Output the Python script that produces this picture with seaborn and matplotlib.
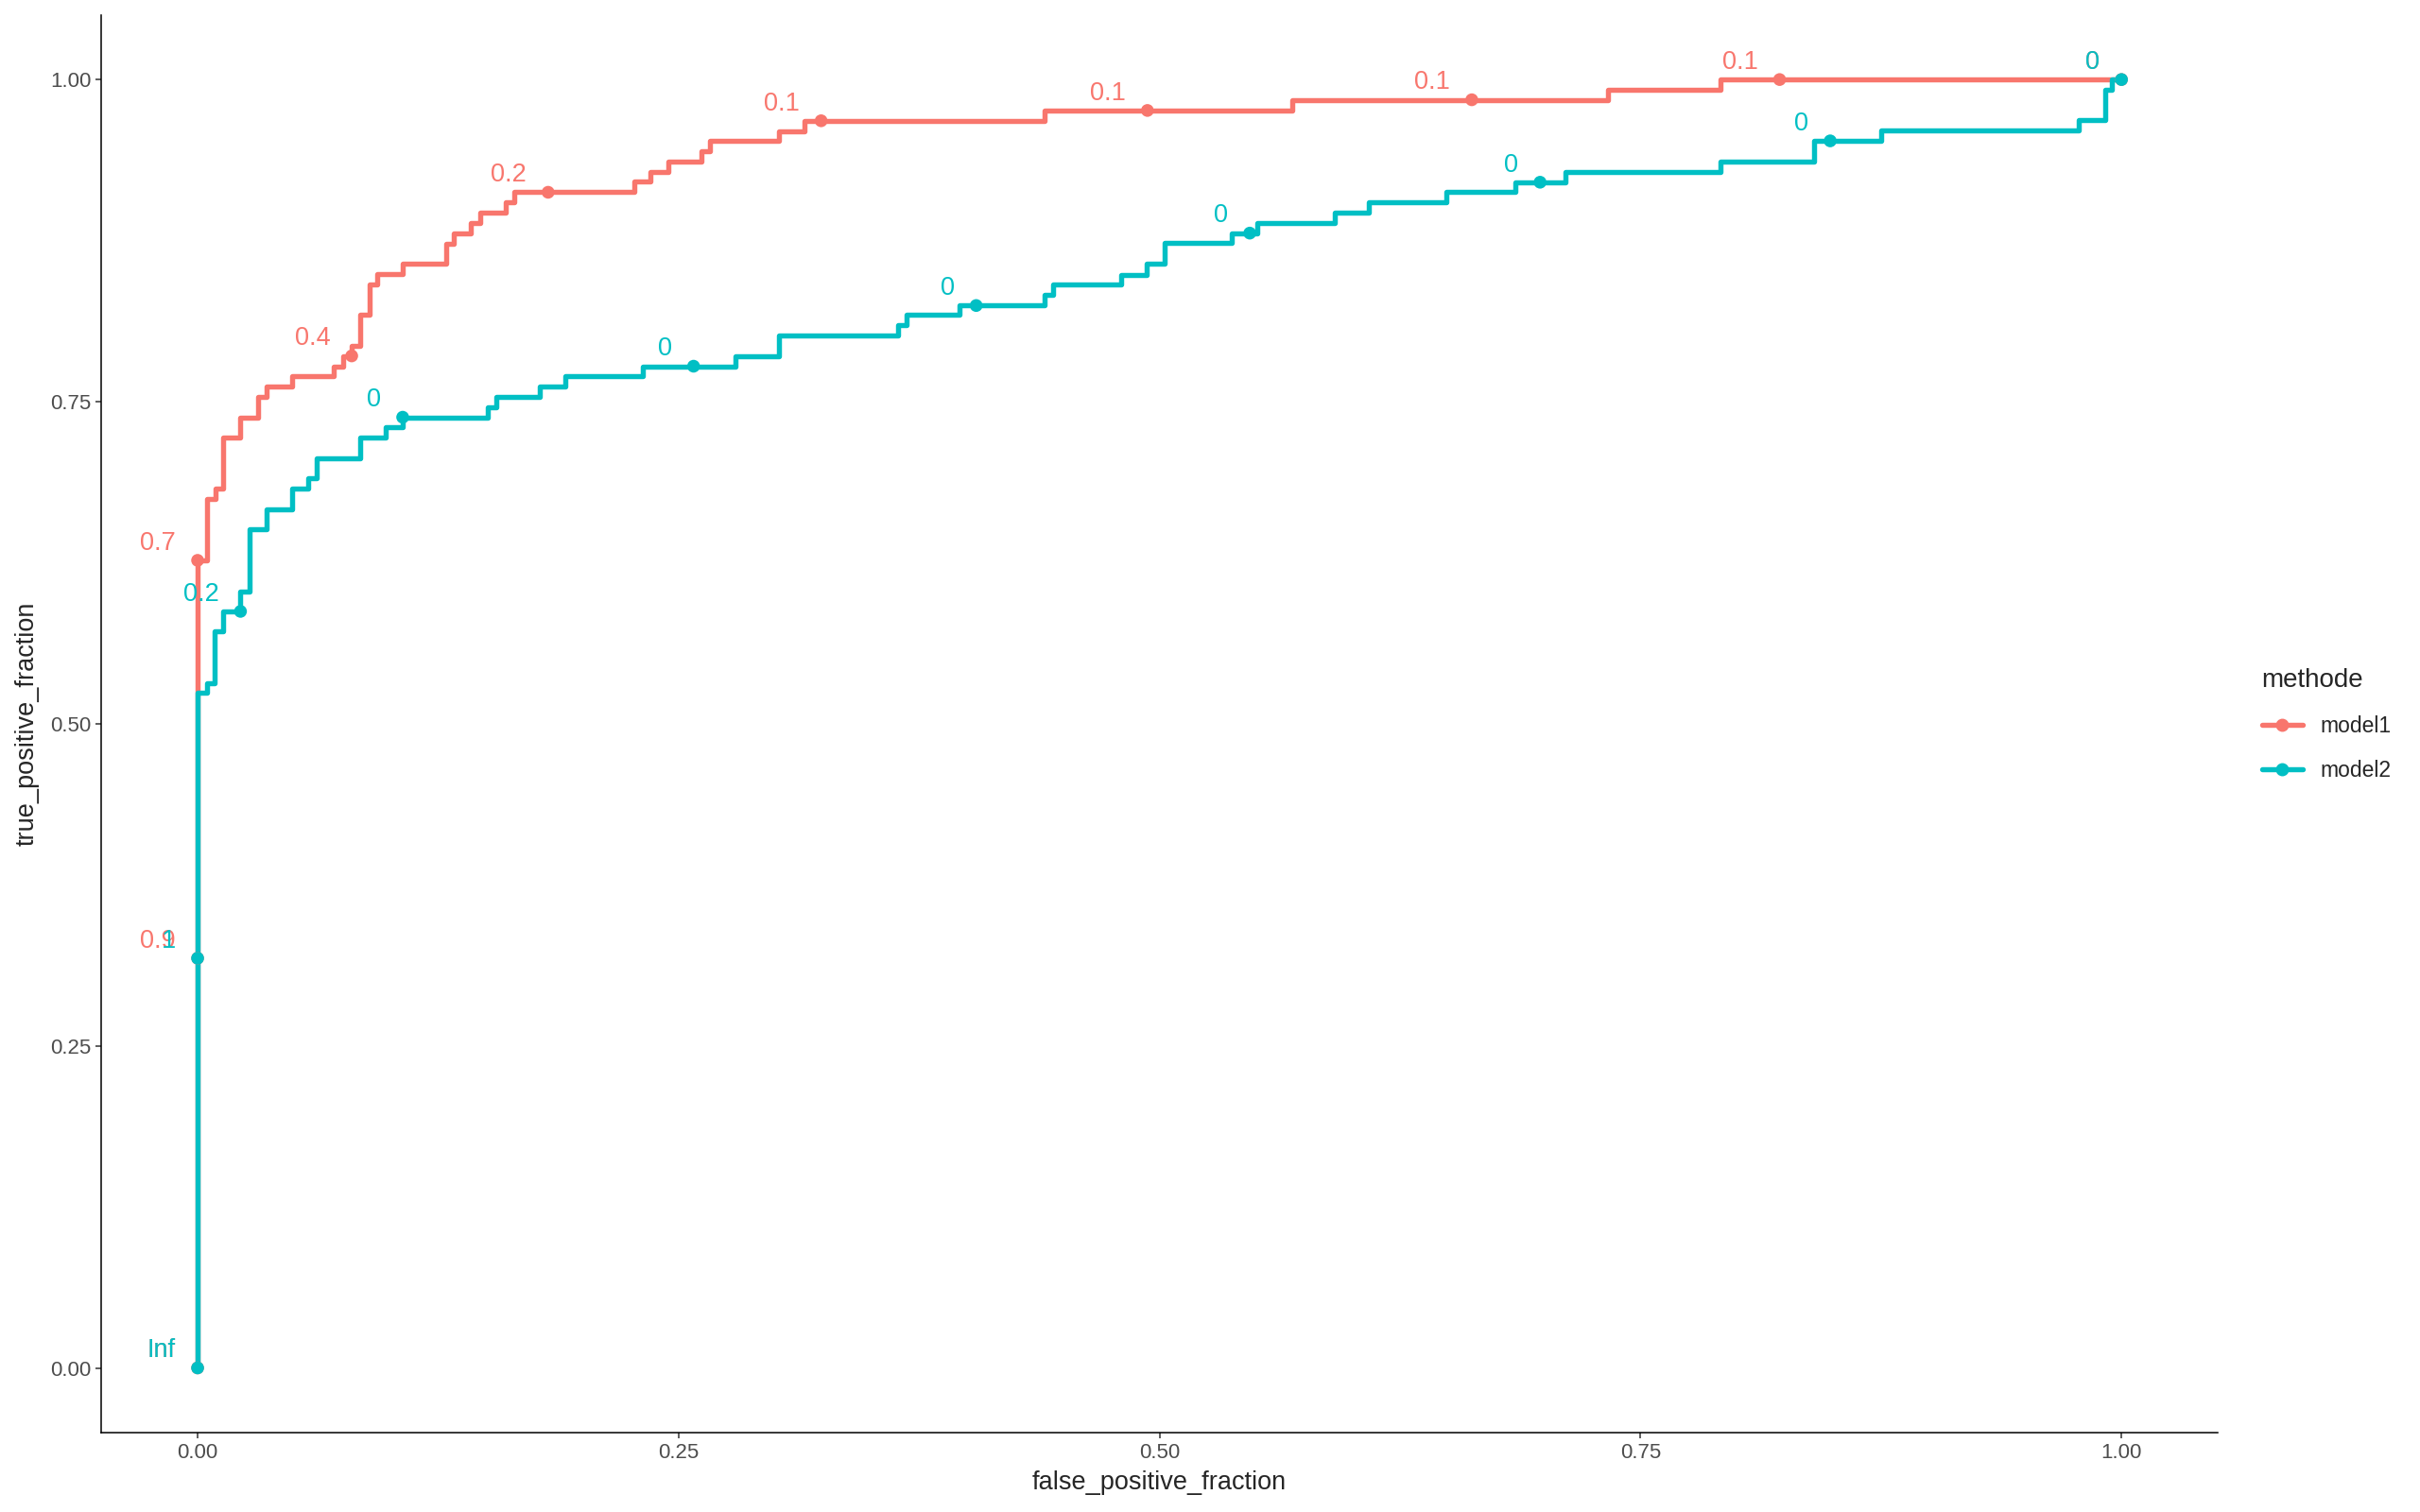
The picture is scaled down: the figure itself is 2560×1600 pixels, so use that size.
"""ROC curves of two models with labelled cutoffs."""

import matplotlib

matplotlib.use("Agg")
import matplotlib.pyplot as plt
import pandas as pd
import seaborn as sns
from matplotlib.lines import Line2D

# ROC points (false positive fraction, true positive fraction)
model1_fpf = [0, 0, 0.0047, 0.0092, 0.0133, 0.0223, 0.0313, 0.0357, 0.0490, 0.0709,
              0.0755, 0.0801, 0.0845, 0.0894, 0.0935, 0.1066, 0.1290, 0.1333, 0.1422,
              0.1467, 0.1602, 0.1647, 0.2269, 0.2353, 0.2446, 0.2621, 0.2663, 0.3021,
              0.3156, 0.4401, 0.5692, 0.7331, 0.7914, 1.0]
model1_tpf = [0, 0.6268, 0.6744, 0.6822, 0.7220, 0.7379, 0.7538, 0.7619, 0.7697, 0.7775,
              0.7855, 0.7936, 0.8173, 0.8412, 0.8491, 0.8568, 0.8727, 0.8803, 0.8886,
              0.8967, 0.9045, 0.9125, 0.9211, 0.9284, 0.9363, 0.9443, 0.9524, 0.9597,
              0.9680, 0.9760, 0.9843, 0.9919, 1.0, 1.0]

model2_fpf = [0, 0, 0.0047, 0.0089, 0.0133, 0.0223, 0.0272, 0.0359, 0.0490, 0.0575,
              0.0621, 0.0845, 0.0976, 0.1066, 0.1508, 0.1553, 0.1778, 0.1913, 0.2314,
              0.2798, 0.3023, 0.3643, 0.3686, 0.3959, 0.4404, 0.4446, 0.4798, 0.4934,
              0.5024, 0.5376, 0.5509, 0.5912, 0.6088, 0.6491, 0.6849, 0.7111, 0.7914,
              0.8401, 0.8753, 0.9779, 0.9914, 0.9951, 1.0]
model2_tpf = [0, 0.5242, 0.5315, 0.5718, 0.5872, 0.6024, 0.6513, 0.6666, 0.6822, 0.6903,
              0.7062, 0.7220, 0.7301, 0.7379, 0.7458, 0.7538, 0.7619, 0.7697, 0.7775,
              0.7855, 0.8015, 0.8092, 0.8173, 0.8246, 0.8332, 0.8410, 0.8486, 0.8568,
              0.8730, 0.8808, 0.8886, 0.8969, 0.9047, 0.9125, 0.9203, 0.9284, 0.9363,
              0.9524, 0.9603, 0.9683, 0.9919, 1.0, 1.0]

# labelled cutoffs
model1_cut_fpf = [0, 0, 0, 0.0801, 0.1822, 0.3241, 0.4937, 0.6623, 0.8223, 1.0]
model1_cut_tpf = [0, 0.318, 0.6268, 0.7855, 0.9125, 0.9680, 0.9760, 0.9843, 1.0, 1.0]
model1_cut_lab = ["Inf", "0.9", "0.7", "0.4", "0.2", "0.1", "0.1", "0.1", "0.1", "0"]

model2_cut_fpf = [0, 0, 0.0223, 0.1066, 0.2578, 0.4047, 0.5469, 0.6978, 0.8486, 1.0]
model2_cut_tpf = [0, 0.318, 0.5872, 0.7379, 0.7775, 0.8246, 0.8808, 0.9203, 0.9524, 1.0]
model2_cut_lab = ["Inf", "1", "0.2", "0", "0", "0", "0", "0", "0", "0"]

methods = ["model1", "model2"]
colors = {"model1": "#F8766D", "model2": "#00BFC4"}

roc = pd.concat([
    pd.DataFrame({"false_positive_fraction": model1_fpf, "true_positive_fraction": model1_tpf, "methode": "model1"}),
    pd.DataFrame({"false_positive_fraction": model2_fpf, "true_positive_fraction": model2_tpf, "methode": "model2"}),
], ignore_index=True)
cuts = pd.concat([
    pd.DataFrame({"false_positive_fraction": model1_cut_fpf, "true_positive_fraction": model1_cut_tpf,
                  "label": model1_cut_lab, "methode": "model1"}),
    pd.DataFrame({"false_positive_fraction": model2_cut_fpf, "true_positive_fraction": model2_cut_tpf,
                  "label": model2_cut_lab, "methode": "model2"}),
], ignore_index=True)

sns.set_style("ticks")
plt.rcParams["font.family"] = ["Liberation Sans", "DejaVu Sans"]

fig = plt.figure(figsize=(25.6, 16), dpi=100)
ax = fig.add_axes([0.0419, 0.0527, 0.8745, 0.9373])

sns.lineplot(data=roc, x="false_positive_fraction", y="true_positive_fraction", hue="methode",
             hue_order=methods, palette=colors, estimator=None, sort=False, drawstyle="steps-post",
             linewidth=3.9, legend=False, ax=ax)
sns.scatterplot(data=cuts, x="false_positive_fraction", y="true_positive_fraction", hue="methode",
                hue_order=methods, palette=colors, s=95, linewidth=0, legend=False, ax=ax, zorder=3)

for _, row in cuts.iterrows():
    ax.annotate(row["label"], (row["false_positive_fraction"], row["true_positive_fraction"]),
                xytext=(-16.5, 3.8), textcoords="offset points", ha="right", va="bottom",
                fontsize=19.5, color=colors[row["methode"]], zorder=4)

ax.set_xlim(-0.05, 1.05)
ax.set_ylim(-0.05, 1.05)
ticks = [0, 0.25, 0.5, 0.75, 1.0]
ax.set_xticks(ticks)
ax.set_yticks(ticks)
ax.set_xticklabels(["0.00", "0.25", "0.50", "0.75", "1.00"])
ax.set_yticklabels(["0.00", "0.25", "0.50", "0.75", "1.00"])
ax.tick_params(labelsize=16, colors="#333333", labelcolor="#4D4D4D", length=4.5, width=1.1)
ax.set_xlabel("false_positive_fraction", fontsize=19.5, labelpad=6)
ax.set_ylabel("true_positive_fraction", fontsize=19.5, labelpad=8)
sns.despine(ax=ax)
for side in ["left", "bottom"]:
    ax.spines[side].set_linewidth(1.1)
    ax.spines[side].set_color("black")

handles = [Line2D([], [], color=colors[m], lw=3.9, marker="o", markersize=9) for m in methods]
leg = fig.legend(handles, methods, title="methode", loc="upper left",
                 bbox_to_anchor=(2372 / 2560, 1 - 686 / 1600), frameon=False,
                 fontsize=16.5, title_fontsize=20, handlelength=1.9, labelspacing=1.05,
                 handletextpad=0.8)
leg._legend_box.align = "left"

fig.savefig("out.png", dpi=100)
